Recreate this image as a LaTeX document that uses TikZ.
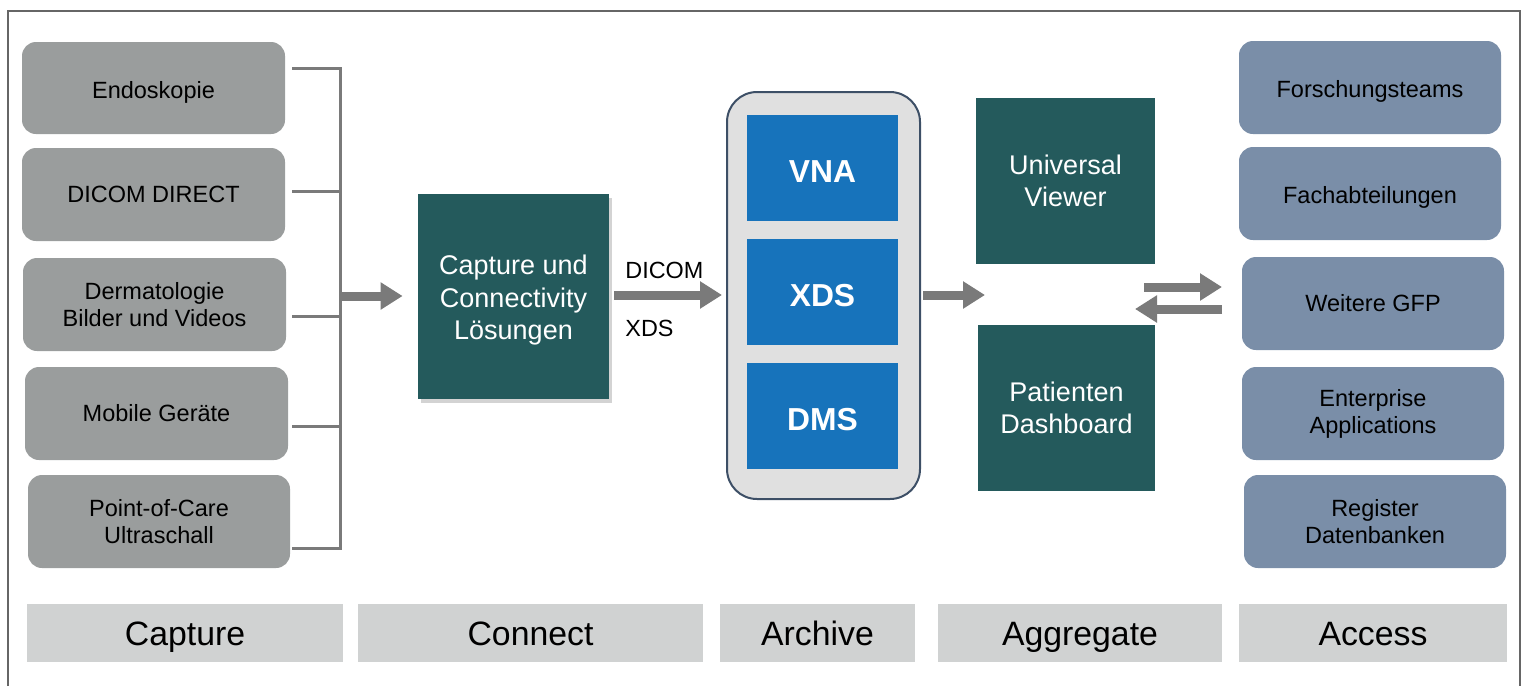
\documentclass[tikz,border=0pt]{standalone}
\usepackage{fontspec}
\setmainfont{Liberation Sans}
\usetikzlibrary{arrows.meta,shadows}

\definecolor{srcgray}{HTML}{9A9D9D}
\definecolor{tealbox}{HTML}{245A5C}
\definecolor{storeblue}{HTML}{1773BB}
\definecolor{slatebox}{HTML}{7A8EA8}
\definecolor{stagegray}{HTML}{D0D2D2}
\definecolor{archfill}{HTML}{E0E0E0}
\definecolor{archline}{HTML}{3D4F66}
\definecolor{flowgray}{HTML}{7A7A7A}
\definecolor{framegray}{HTML}{666666}

\tikzset{
  sz/.style 2 args={minimum width=#1*0.5pt, minimum height=#2*0.5pt},
  source/.style={fill=srcgray, rounded corners=7pt, inner sep=0pt, align=center,
    font=\fontsize{11.75}{13.5}\selectfont},
  target/.style={source, fill=slatebox},
  lowtext/.style={text height=10.5pt, text depth=0.5pt},
  hub/.style={fill=tealbox, text=white, inner sep=0pt, align=center,
    font=\fontsize{13.5}{16.3}\selectfont},
  store/.style={fill=storeblue, text=white, inner sep=0pt,
    text height=14.4pt, text depth=0pt,
    font=\fontsize{15.9}{18}\selectfont\bfseries},
  stagebar/.style={fill=stagegray, inner sep=0pt, text height=12.5pt, text depth=0.5pt,
    font=\fontsize{16.9}{19}\selectfont},
  flow/.style={draw=flowgray, line width=4.5pt, -{Triangle[length=11pt,width=13pt]}},
  bracketline/.style={draw=flowgray, line width=1.5pt},
  protocol/.style={font=\fontsize{11.7}{13.5}\selectfont, anchor=west, inner sep=0pt}
}

\begin{document}
\begin{tikzpicture}[x=0.5pt, y=-0.5pt]
\useasboundingbox (0,0) rectangle (1524,686);

% outer frame, open at the bottom
\draw[framegray, line width=0.8pt] (8,686) -- (8,11) -- (1520,11) -- (1520,686);

% ---- Capture: image sources
\node[source, lowtext, sz={263}{92}] (endo) at (153.5,88) {Endoskopie};
\node[source, sz={263}{93}] (dicomdirect) at (153.5,194.5) {DICOM DIRECT};
\node[source, sz={263}{93}] (derma)       at (154.5,304.5) {Dermatologie\\Bilder und Videos};
\node[source, sz={263}{93}] (mobile)      at (156.5,413.5) {Mobile Geräte};
\node[source, sz={262}{93}] (pocus)       at (159,521.5)   {Point-of-Care\\Ultraschall};

% bracket collecting the sources
\coordinate (b1) at (292,68);
\coordinate (b2) at (292,191);
\coordinate (b3) at (292,316);
\coordinate (b4) at (292,426);
\coordinate (b5) at (292,548);
\coordinate (bracketout) at (340,296);
\draw[bracketline] (b1) -- (340,68) -- (340,548) -- (b5);
\draw[bracketline] (b2) -- (340,191);
\draw[bracketline] (b3) -- (340,316);
\draw[bracketline] (b4) -- (340,426);

% ---- Connect
\node[hub, sz={191}{205},
      drop shadow={shadow xshift=1.5pt, shadow yshift=-2pt, opacity=0.35}]
      (connect) at (513.5,296.5)
      {\raisebox{-2pt}[\height][\depth]{\begin{tabular}{@{}c@{}}Capture und\\Connectivity\\Lösungen\end{tabular}}};

\draw[flow] (bracketout) -- ([xshift=-7.5pt]connect.west |- bracketout);

% ---- Archive
\node[fill=archfill, draw=archline, line width=1pt, rounded corners=15pt,
      inner sep=0pt, sz={193}{407}] (archive) at (823.5,295.5) {};
\node[store, sz={151}{106}] (vna) at (822.5,168) {VNA};
\node[store, sz={151}{106}] (xds) at (822.5,292) {XDS};
\node[store, sz={151}{106}] (dms) at (822.5,416) {DMS};

\draw[flow, shorten <=2.5pt, shorten >=2pt] (connect.east |- 0,295) -- (archive.west |- 0,295);
\node[protocol] (dicomlbl) at (625,270) {DICOM};
\node[protocol] (xdslbl) at (625,328) {XDS};

% ---- Aggregate
\node[hub, sz={179}{166}] (viewer)    at (1065.5,181) {Universal\\Viewer};
\node[hub, sz={177}{166}] (dashboard) at (1066.5,408) {Patienten\\Dashboard};
\coordinate (aggin) at (985,295);
\draw[flow, shorten <=1pt] (archive.east |- aggin) -- (aggin);

% exchange with the consumers
\coordinate (outstart) at (1144,287);
\coordinate (outend) at (1222,287);
\coordinate (instart) at (1222,309);
\coordinate (inend) at (1135,309);
\draw[flow] (outstart) -- (outend);
\draw[flow] (instart) -- (inend);

% ---- Access: consumers
\node[target, lowtext, sz={262}{93}] (research)    at (1370,87.5)  {Forschungsteams};
\node[target, lowtext, sz={262}{93}] (departments) at (1370,193.5) {Fachabteilungen};
\node[target, sz={262}{93}] (gfp)         at (1373,303.5) {Weitere GFP};
\node[target, sz={262}{93}] (enterprise)  at (1373,413.5) {Enterprise\\Applications};
\node[target, sz={262}{93}] (registers)   at (1375,521.5) {Register\\Datenbanken};

% ---- stage bars
\node[stagebar, sz={316}{58}] (scapture)   at (185,633)    {Capture};
\node[stagebar, sz={345}{58}] (sconnect)   at (530.5,633)  {Connect};
\node[stagebar, sz={195}{58}] (sarchive)   at (817.5,633)  {Archive};
\node[stagebar, sz={284}{58}] (saggregate) at (1080,633)   {Aggregate};
\node[stagebar, sz={268}{58}] (saccess)    at (1373,633)   {Access};
\end{tikzpicture}
\end{document}
